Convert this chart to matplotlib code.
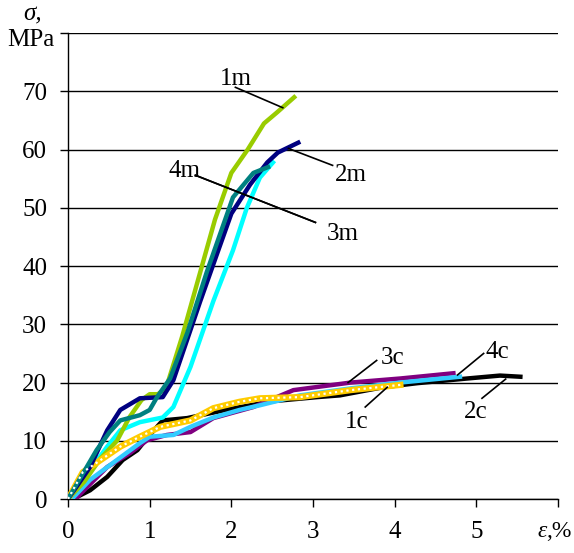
import matplotlib

matplotlib.use("Agg")
from matplotlib import pyplot as plt

# strain (%) and stress (MPa) for each specimen
x_1m = [0, 0.2, 0.4, 0.6, 0.75, 0.9, 1.0, 1.1, 1.2, 1.4, 1.6, 1.8, 2.0, 2.2, 2.4, 2.56, 2.77]
y_1m = [0, 3, 7, 10, 14, 17, 18, 18, 19, 28, 38, 48, 56, 60, 64.5, 66.4, 69]

x_2m = [0, 0.27, 0.48, 0.64, 0.88, 1.16, 1.29, 1.62, 1.84, 2.0, 2.23, 2.44, 2.57, 2.82]
y_2m = [0, 5.5, 11.8, 15.3, 17.3, 17.5, 20.4, 34, 42.7, 49, 54, 57.8, 59.5, 61.2]

x_3m = [0, 0.18, 0.48, 0.64, 0.88, 1.16, 1.29, 1.5, 1.78, 2.02, 2.19, 2.35, 2.51]
y_3m = [0, 3.3, 9, 11.8, 13.2, 14, 15.8, 22.7, 34, 42.7, 50, 55.2, 57.8]

x_4m = [0, 0.35, 0.51, 0.64, 0.88, 1.0, 1.09, 1.25, 1.46, 1.7, 1.95, 2.02, 2.27, 2.45]
y_4m = [0, 8.4, 11.5, 13.5, 14.4, 15.3, 17.5, 20.7, 28.5, 39, 49, 51.8, 56, 57]

x_1c = [0, 0.18, 0.64, 0.88, 1.13, 1.5, 1.78, 2.1, 2.35, 2.84, 3.46, 4.07]
y_1c = [0, 4.6, 9, 10.7, 12.4, 13.5, 15.6, 16.7, 17.3, 17.5, 18.7, 19.6]

x_2c = [0.06, 0.27, 0.48, 0.67, 0.85, 0.97, 1.16, 1.46, 2.0, 2.5, 3.05, 3.33, 3.86, 4.28, 4.89, 5.29, 5.54]
y_2c = [0, 1.5, 3.8, 6.7, 8.4, 10.5, 13.5, 13.9, 15.5, 16.8, 17.5, 17.8, 19.2, 19.9, 20.7, 21.2, 21]

x_3c = [0.11, 0.48, 0.76, 0.97, 1.21, 1.5, 1.78, 2.27, 2.76, 3.46, 4.07, 4.72]
y_3c = [0.3, 5.5, 7.9, 10.1, 11, 11.5, 13.9, 15.8, 18.7, 20, 20.7, 21.6]

x_4c = [0.06, 0.27, 0.55, 0.88, 1.0, 1.29, 1.5, 1.78, 2.1, 2.35, 2.84, 3.46, 4.07, 4.8]
y_4c = [0.2, 3.3, 6.2, 9.6, 10.7, 11, 12.4, 14, 15.3, 16.1, 17.8, 19, 20, 21]

# label text position, leader start, leader end
labels = ["1m", "2m", "3m", "4m", "1c", "2c", "3c", "4c"]
text_xy = [(2.06, 72.2), (3.46, 55.7), (3.37, 45.5), (1.43, 56.4),
           (3.54, 13.2), (4.99, 14.9), (3.98, 24.2), (5.26, 25.2)]
leader_from = [(2.05, 70.7), (2.70, 60.2), (3.03, 47.5), (1.56, 55.6),
               (3.64, 15.8), (5.07, 17.3), (3.78, 23.8), (5.09, 25.0)]
leader_to = [(2.63, 67.2), (3.24, 57.3), (1.56, 55.6), (3.03, 47.5),
             (3.91, 19.2), (5.36, 20.6), (3.43, 20.0), (4.77, 21.3)]

plt.rcParams["font.family"] = ["Liberation Serif", "DejaVu Serif"]
fs = 18

fig = plt.figure(figsize=(5.74, 5.53), dpi=100)
ax = fig.add_axes([0.1185, 0.0976, 0.8535, 0.8424])

lw = 3.2
ax.plot(x_2c, y_2c, color="black", lw=lw, zorder=3)
ax.plot(x_3c, y_3c, color="#800080", lw=lw, zorder=3)
ax.plot(x_4c, y_4c, color="#33CCFF", lw=lw, zorder=3)
ax.plot(x_1c, y_1c, color="#FFCC00", lw=4.5, zorder=4)
ax.plot(x_1c, y_1c, color="white", lw=1.6, ls=(0, (1, 1.6)), zorder=5)
ax.plot(x_3m, y_3m, color="#00FFFF", lw=lw, zorder=3)
ax.plot(x_1m, y_1m, color="#99CC00", lw=lw, zorder=3)
ax.plot(x_2m, y_2m, color="#000080", lw=lw, zorder=4)
ax.plot(x_4m, y_4m, color="#008080", lw=lw, zorder=4)

for name, txt, p0, p1 in zip(labels, text_xy, leader_from, leader_to):
    ax.plot([p0[0], p1[0]], [p0[1], p1[1]], color="black", lw=1.2, zorder=6)
    ax.text(txt[0], txt[1], name, fontsize=fs, ha="center", va="center", zorder=7)

ax.set_xlim(0, 6)
ax.set_ylim(0, 80)
ax.set_xticks(range(7))
ax.set_xticklabels(["0", "1", "2", "3", "4", "5", ""])
ax.set_yticks(range(0, 90, 10))
ax.set_yticklabels(["0", "10", "20", "30", "40", "50", "60", "70", ""])
ax.tick_params(labelsize=fs, direction="out", length=6, width=1)
ax.tick_params(axis="y", pad=9)
ax.tick_params(axis="x", pad=10)
ax.grid(axis="y", color="black", lw=1)
for side in ("top", "right"):
    ax.spines[side].set_visible(False)
for side in ("left", "bottom"):
    ax.spines[side].set_linewidth(1)
ax.set_axisbelow(True)

fig.text(0.056, 0.973, "σ,", fontsize=fs, style="italic", ha="center", va="center")
fig.text(0.054, 0.927, "MPa", fontsize=fs, ha="center", va="center")
fig.text(0.952, 0.038, "ε", fontsize=17, style="italic", ha="right", va="center")
fig.text(0.952, 0.038, ",%", fontsize=17, ha="left", va="center")

fig.savefig("out.png", dpi=100)
